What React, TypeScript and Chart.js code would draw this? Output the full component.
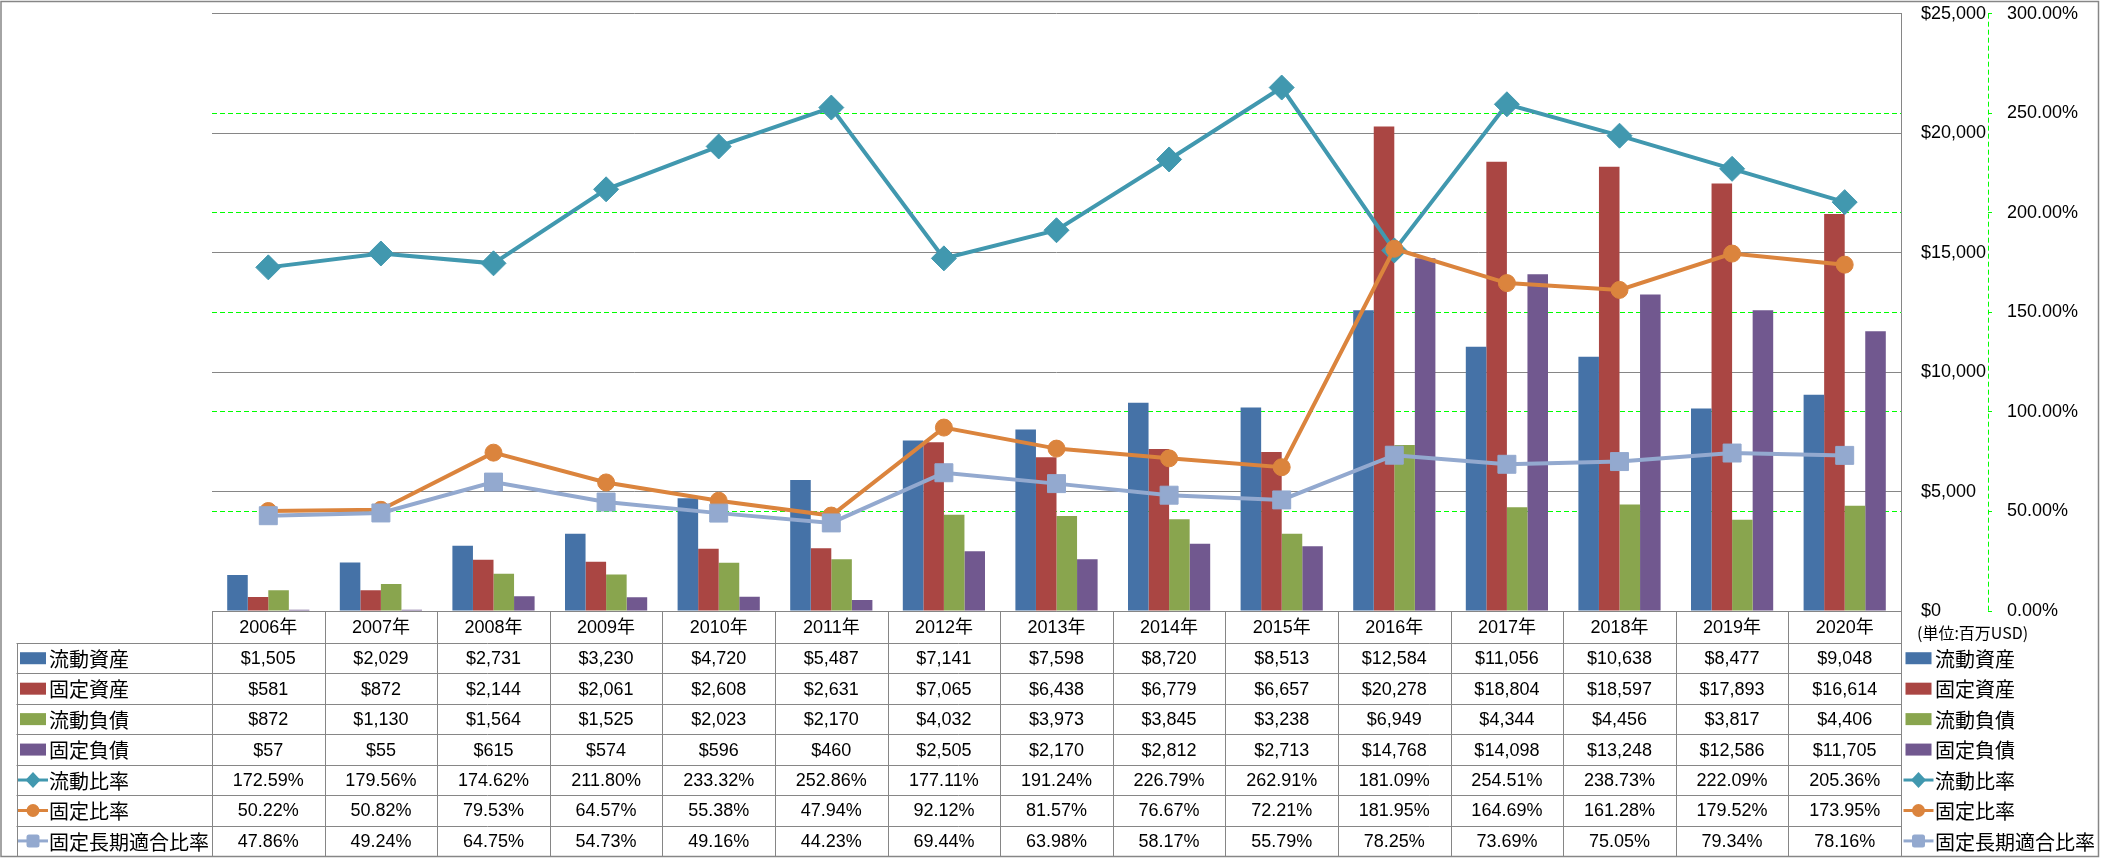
import { useEffect, useRef } from 'react';
import { Chart, registerables } from 'chart.js';

Chart.register(...registerables);

const CATEGORIES = ['2006年', '2007年', '2008年', '2009年', '2010年', '2011年', '2012年', '2013年', '2014年', '2015年', '2016年', '2017年', '2018年', '2019年', '2020年'];
const CURRENT_ASSETS = [1505, 2029, 2731, 3230, 4720, 5487, 7141, 7598, 8720, 8513, 12584, 11056, 10638, 8477, 9048];
const FIXED_ASSETS = [581, 872, 2144, 2061, 2608, 2631, 7065, 6438, 6779, 6657, 20278, 18804, 18597, 17893, 16614];
const CURRENT_LIABILITIES = [872, 1130, 1564, 1525, 2023, 2170, 4032, 3973, 3845, 3238, 6949, 4344, 4456, 3817, 4406];
const FIXED_LIABILITIES = [57, 55, 615, 574, 596, 460, 2505, 2170, 2812, 2713, 14768, 14098, 13248, 12586, 11705];
const CURRENT_RATIO = [172.59, 179.56, 174.62, 211.80, 233.32, 252.86, 177.11, 191.24, 226.79, 262.91, 181.09, 254.51, 238.73, 222.09, 205.36];
const FIXED_RATIO = [50.22, 50.82, 79.53, 64.57, 55.38, 47.94, 92.12, 81.57, 76.67, 72.21, 181.95, 164.69, 161.28, 179.52, 173.95];
const FIXED_LONG_TERM_RATIO = [47.86, 49.24, 64.75, 54.73, 49.16, 44.23, 69.44, 63.98, 58.17, 55.79, 78.25, 73.69, 75.05, 79.34, 78.16];
const AMOUNT_AXIS = { min: 0, max: 25000, step: 5000 };
const RATIO_AXIS = { min: 0, max: 300, step: 50 };
const UNIT_LABEL = '(単位:百万USD)';

type Series = { name: string; data: number[]; kind: 'bar' | 'line'; color: string; point?: string; radius?: number; order: number };

const SERIES: Series[] = [
  { name: '流動資産', data: CURRENT_ASSETS, kind: 'bar', color: '#4572A7', order: 4 },
  { name: '固定資産', data: FIXED_ASSETS, kind: 'bar', color: '#AA4643', order: 5 },
  { name: '流動負債', data: CURRENT_LIABILITIES, kind: 'bar', color: '#89A54E', order: 6 },
  { name: '固定負債', data: FIXED_LIABILITIES, kind: 'bar', color: '#71588F', order: 7 },
  { name: '流動比率', data: CURRENT_RATIO, kind: 'line', color: '#4198AF', point: 'rectRot', radius: 12.5, order: 3 },
  { name: '固定比率', data: FIXED_RATIO, kind: 'line', color: '#DB843D', point: 'circle', radius: 8.5, order: 2 },
  { name: '固定長期適合比率', data: FIXED_LONG_TERM_RATIO, kind: 'line', color: '#93A9CF', point: 'rect', radius: 12.7, order: 1 },
];

const GRAY = '#868686';
const GREEN = '#00FF00';
const NUM_FONT = "18px 'Liberation Sans', 'Noto Sans CJK JP', sans-serif";
const CJK_FONT = "20px 'Noto Sans CJK JP', sans-serif";

function fmtMoney(v: number) {
  return '$' + v.toLocaleString('en-US');
}
function fmtPct(v: number) {
  return v.toFixed(2) + '%';
}

function drawKey(ctx: CanvasRenderingContext2D, cx: number, cy: number, s: Series) {
  ctx.save();
  ctx.fillStyle = s.color;
  if (s.kind === 'bar') {
    ctx.fillRect(cx - 13, cy - 6, 26, 12);
  } else {
    ctx.strokeStyle = s.color;
    ctx.lineWidth = 3;
    ctx.beginPath();
    ctx.moveTo(cx - 15, cy);
    ctx.lineTo(cx + 15, cy);
    ctx.stroke();
    ctx.beginPath();
    if (s.point === 'rectRot') {
      ctx.moveTo(cx, cy - 8);
      ctx.lineTo(cx + 7.5, cy);
      ctx.lineTo(cx, cy + 8);
      ctx.lineTo(cx - 7.5, cy);
      ctx.closePath();
    } else if (s.point === 'circle') {
      ctx.arc(cx, cy, 6.5, 0, Math.PI * 2);
    } else {
      ctx.roundRect(cx - 6.5, cy - 6.5, 13, 13, 2.5);
    }
    ctx.fill();
  }
  ctx.restore();
}

const axisLinePlugin = {
  id: 'ratioAxisLine',
  beforeDatasetsDraw(chart: any) {
    const ctx: CanvasRenderingContext2D = chart.ctx;
    const s = chart.scales.y1;
    const x = Math.round(s.left) + 0.5;
    ctx.save();
    ctx.strokeStyle = GREEN;
    ctx.lineWidth = 1;
    ctx.setLineDash([5, 3]);
    ctx.beginPath();
    ctx.moveTo(x, s.top);
    ctx.lineTo(x, s.bottom);
    ctx.stroke();
    ctx.restore();
  },
};

const tablePlugin = {
  id: 'dataTable',
  afterDraw(chart: any) {
    const ctx: CanvasRenderingContext2D = chart.ctx;
    const area = chart.chartArea;
    const xs = chart.scales.x;
    const n = CATEGORIES.length;
    const colW = (area.right - area.left) / n;
    const headerTop = area.bottom;
    const headerH = 32;
    const dataTop = headerTop + headerH;
    const rowH = 30.45;
    const tableLeft = 16.5;
    const tableBottom = dataTop + rowH * SERIES.length;

    ctx.save();
    ctx.strokeStyle = GRAY;
    ctx.lineWidth = 1;
    ctx.beginPath();
    const hl = (y: number, x0: number, x1: number) => {
      const yy = Math.round(y) + 0.5;
      ctx.moveTo(x0, yy);
      ctx.lineTo(x1, yy);
    };
    hl(headerTop, area.left, area.right);
    for (let r = 0; r <= SERIES.length; r++) hl(dataTop + r * rowH, tableLeft, area.right);
    const vl = (x: number, y0: number, y1: number) => {
      const xx = Math.round(x) + 0.5;
      ctx.moveTo(xx, y0);
      ctx.lineTo(xx, y1);
    };
    for (let i = 0; i <= n; i++) vl(area.left + i * colW, headerTop, tableBottom);
    vl(tableLeft, dataTop, tableBottom);
    ctx.stroke();

    ctx.fillStyle = '#000';
    ctx.textBaseline = 'middle';
    ctx.textAlign = 'center';
    ctx.font = NUM_FONT;
    CATEGORIES.forEach((c, i) => {
      ctx.fillText(c, xs.getPixelForValue(i), headerTop + headerH / 2 + 1);
    });
    SERIES.forEach((s, r) => {
      const cy = dataTop + r * rowH + rowH / 2 + 1;
      ctx.textAlign = 'center';
      ctx.font = NUM_FONT;
      ctx.fillStyle = '#000';
      s.data.forEach((v, i) => {
        ctx.fillText(s.kind === 'bar' ? fmtMoney(v) : fmtPct(v), xs.getPixelForValue(i), cy);
      });
      drawKey(ctx, 33, cy - 1, s);
      drawKey(ctx, 1918.5, cy - 1, s);
      ctx.fillStyle = '#000';
      ctx.textAlign = 'left';
      ctx.font = CJK_FONT;
      ctx.fillText(s.name, 49, cy);
      ctx.fillText(s.name, 1935, cy);
    });

    ctx.font = "16px 'Noto Sans CJK JP', sans-serif";
    ctx.textAlign = 'left';
    ctx.fillText(UNIT_LABEL, 1917, headerTop + 22);

    ctx.strokeStyle = GRAY;
    ctx.lineWidth = 1.5;
    ctx.strokeRect(1, 1.5, 2097.5, 855);
    ctx.restore();
  },
};

export default function App() {
  const ref = useRef<HTMLCanvasElement | null>(null);

  useEffect(() => {
    document.body.style.margin = '0';
    const canvas = ref.current!;
    const datasets: any[] = SERIES.map((s) =>
      s.kind === 'bar'
        ? {
            type: 'bar',
            label: s.name,
            data: s.data,
            backgroundColor: s.color,
            borderWidth: 0,
            yAxisID: 'y',
            order: s.order,
            categoryPercentage: 0.73,
            barPercentage: 1,
          }
        : {
            type: 'line',
            label: s.name,
            data: s.data,
            borderColor: s.color,
            backgroundColor: s.color,
            borderWidth: 4,
            pointStyle: s.point,
            pointRadius: s.radius,
            pointBackgroundColor: s.color,
            pointBorderColor: s.color,
            pointBorderWidth: 1,
            tension: 0,
            yAxisID: 'y1',
            order: s.order,
          }
    );

    const chart = new Chart(canvas, {
      type: 'bar',
      data: { labels: CATEGORIES, datasets },
      options: {
        responsive: false,
        animation: false,
        devicePixelRatio: 1,
        events: [],
        layout: { padding: { left: 212, top: 13, right: 0, bottom: 247 } },
        plugins: { legend: { display: false }, tooltip: { enabled: false } },
        scales: {
          x: { display: false },
          y: {
            position: 'right',
            min: AMOUNT_AXIS.min,
            max: AMOUNT_AXIS.max,
            ticks: {
              stepSize: AMOUNT_AXIS.step,
              crossAlign: 'near',
              padding: 20,
              color: '#000',
              font: { family: "'Liberation Sans', sans-serif", size: 18 },
              callback: (v: any) => fmtMoney(Number(v)),
            },
            grid: { color: GRAY, lineWidth: 1, drawTicks: false },
            border: { display: true, color: GRAY, width: 1 },
            afterFit: (s: any) => {
              s.width = 87;
              s.paddingTop = 0;
              s.paddingBottom = 0;
            },
          },
          y1: {
            position: 'right',
            min: RATIO_AXIS.min,
            max: RATIO_AXIS.max,
            ticks: {
              stepSize: RATIO_AXIS.step,
              crossAlign: 'near',
              padding: 15,
              color: '#000',
              font: { family: "'Liberation Sans', sans-serif", size: 18 },
              callback: (v: any) => fmtPct(Number(v)),
            },
            grid: {
              color: (c: any) => (c.tick && (c.tick.value === RATIO_AXIS.min || c.tick.value === RATIO_AXIS.max) ? 'rgba(0,0,0,0)' : GREEN),
              tickColor: GREEN,
              tickLength: 4,
              lineWidth: 1,
            } as any,
            border: { display: false, color: GREEN, width: 1, dash: [5, 3] },
            afterFit: (s: any) => {
              s.width = 113;
              s.paddingTop = 0;
              s.paddingBottom = 0;
            },
          },
        },
      } as any,
      plugins: [axisLinePlugin, tablePlugin],
    });
    return () => chart.destroy();
  }, []);

  return (
    <div style={{ position: 'absolute', left: 0, top: 0, width: 2101, height: 858, background: '#fff' }}>
      <canvas ref={ref} width={2101} height={858} />
    </div>
  );
}
